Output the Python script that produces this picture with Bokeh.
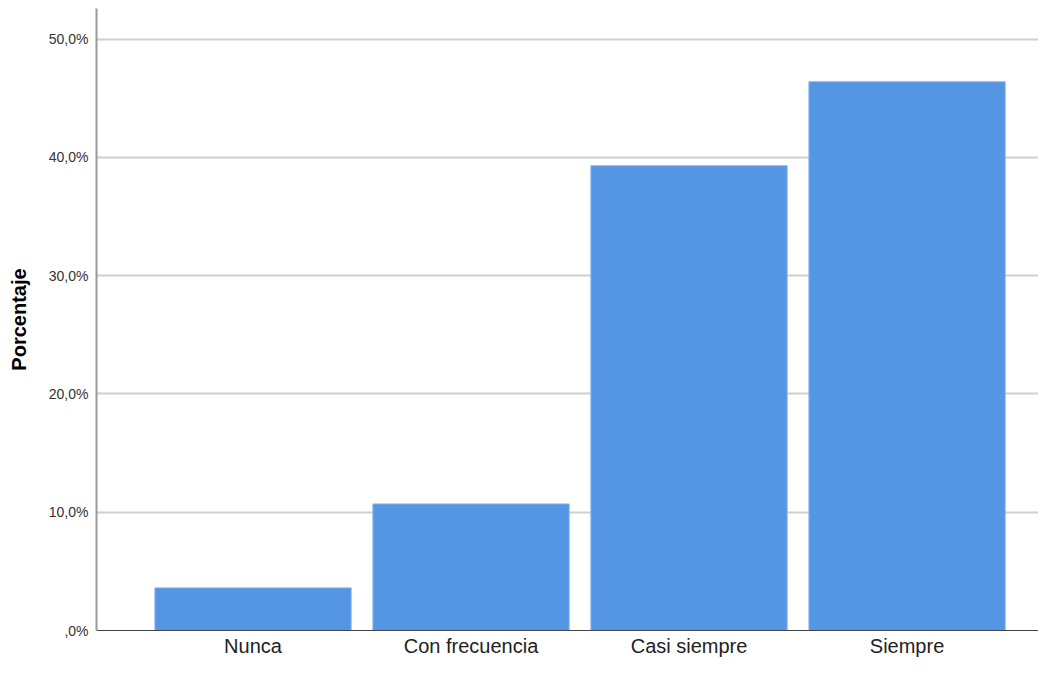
from bokeh.plotting import figure
from bokeh.models import ColumnDataSource, Range1d, FixedTicker
from bokeh.embed import file_html
from bokeh.resources import INLINE

categories = ["Nunca", "Con frecuencia", "Casi siempre", "Siempre"]
percentages = [3.6, 10.7, 39.3, 46.4]
y_ticks = [0, 10, 20, 30, 40, 50]
y_tick_labels = [",0%", "10,0%", "20,0%", "30,0%", "40,0%", "50,0%"]

positions = list(range(len(categories)))
src = ColumnDataSource(dict(x=positions, cat=categories, pct=percentages))

p = figure(
    width=1038, height=659,
    x_range=Range1d(-0.718, 3.603),
    y_range=Range1d(0, 52.6),
    output_backend="svg", toolbar_location=None,
    min_border_left=96, min_border_right=0, min_border_top=8, min_border_bottom=0,
)
p.outline_line_color = None
p.background_fill_color = "white"
p.border_fill_color = "white"

p.vbar(x="x", top="pct", width=0.9, source=src,
       fill_color="#5596E4", line_color="#7fb0ec", line_width=1)

# y axis
p.yaxis.ticker = FixedTicker(ticks=y_ticks)
p.yaxis.major_label_overrides = {t: l for t, l in zip(y_ticks, y_tick_labels)}
p.yaxis.major_tick_line_color = None
p.yaxis.minor_tick_line_color = None
p.yaxis.major_tick_out = 0
p.yaxis.major_tick_in = 0
p.yaxis.minor_tick_out = 0
p.yaxis.axis_line_color = "#9a9a9a"
p.yaxis.axis_line_width = 2
p.yaxis.major_label_text_font = "Liberation Sans"
p.yaxis.major_label_text_font_size = "14px"
p.yaxis.major_label_text_color = "#333333"
p.yaxis.major_label_standoff = 8
p.yaxis.axis_label = "Porcentaje"
p.yaxis.axis_label_text_font = "Liberation Sans"
p.yaxis.axis_label_text_font_style = "bold"
p.yaxis.axis_label_text_font_size = "20px"
p.yaxis.axis_label_text_color = "#000000"
p.yaxis.axis_label_standoff = 16

# x axis
p.xaxis.ticker = FixedTicker(ticks=positions)
p.xaxis.major_label_overrides = {i: c for i, c in zip(positions, categories)}
p.xaxis.major_tick_line_color = None
p.xaxis.minor_tick_line_color = None
p.xaxis.major_tick_out = 0
p.xaxis.major_tick_in = 0
p.xaxis.minor_tick_out = 0
p.xaxis.axis_line_color = "#444444"
p.xaxis.axis_line_width = 1
p.xaxis.major_label_text_font = "Liberation Sans"
p.xaxis.major_label_text_font_size = "20px"
p.xaxis.major_label_text_color = "#222222"
p.xaxis.major_label_standoff = 4

p.xgrid.grid_line_color = None
p.ygrid.grid_line_color = "#cfcfcf"
p.ygrid.grid_line_width = 2
p.ygrid.ticker = FixedTicker(ticks=y_ticks[1:])

open("out.html", "w").write(file_html(p, INLINE))
